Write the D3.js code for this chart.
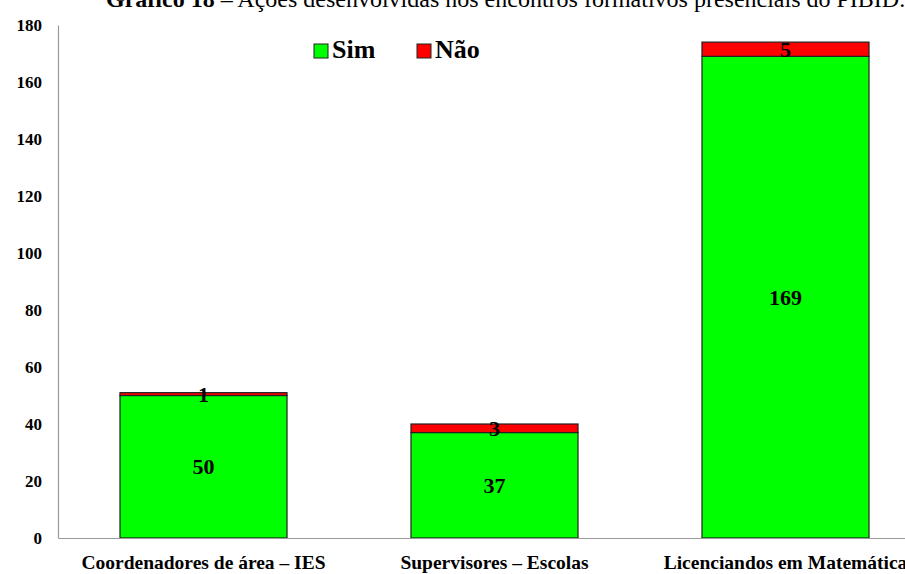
<!DOCTYPE html>
<html>
<head>
<meta charset="utf-8">
<script src="https://cdn.jsdelivr.net/npm/d3@7"></script>
<style>
  html, body { margin: 0; padding: 0; background: #fff; }
  svg { display: block; }
  text { font-family: "Liberation Serif", "Times New Roman", serif; }
</style>
</head>
<body>
<svg id="chart" width="905" height="574"></svg>
<script>
// Data
const categories = ["Coordenadores de área – IES", "Supervisores – Escolas", "Licenciandos em Matemática"];
const simValues = [50, 37, 169];
const naoValues = [1, 3, 5];
const seriesNames = ["Sim", "Não"];
const seriesColors = ["#00ff00", "#ff0000"];
const yTicks = [0, 20, 40, 60, 80, 100, 120, 140, 160, 180];

const svg = d3.select("#chart");
const margin = { left: 58, top: 25 };
const plotRight = 931; // plot area continues past the right edge

const x = d3.scaleBand()
  .domain(categories)
  .range([margin.left, plotRight])
  .paddingInner(0.426)
  .paddingOuter(0.213);

const y = d3.scaleLinear()
  .domain([0, 180])
  .range([538, margin.top]);

// Title
const title = svg.append("text")
  .attr("x", 106)
  .attr("y", 7)
  .attr("font-size", 24)
  .attr("fill", "#000");
title.append("tspan").attr("font-weight", "bold").text("Gráfico 18");
title.append("tspan").text(" – Ações desenvolvidas nos encontros formativos presenciais do PIBID.");

// Stacked data
const rows = categories.map((c, i) => ({ cat: c, Sim: simValues[i], "Não": naoValues[i] }));
const stack = d3.stack().keys(seriesNames)(rows);

// Bars
svg.append("g")
  .selectAll("g")
  .data(stack)
  .join("g")
  .attr("fill", (d, i) => seriesColors[i])
  .selectAll("rect")
  .data(d => d)
  .join("rect")
  .attr("x", d => x(d.data.cat))
  .attr("width", x.bandwidth())
  .attr("y", d => y(d[1]))
  .attr("height", d => y(d[0]) - y(d[1]))
  .attr("stroke", "#222")
  .attr("stroke-width", 1.2);

// Value labels centred in each segment
svg.append("g")
  .selectAll("g")
  .data(stack)
  .join("g")
  .selectAll("text")
  .data(d => d)
  .join("text")
  .attr("x", d => x(d.data.cat) + x.bandwidth() / 2)
  .attr("y", d => (y(d[0]) + y(d[1])) / 2)
  .attr("dy", "0.35em")
  .attr("text-anchor", "middle")
  .attr("font-size", 22)
  .attr("font-weight", "bold")
  .attr("fill", "#000")
  .text(d => d[1] - d[0]);

// Y axis
const yAxis = d3.axisLeft(y).tickValues(yTicks).tickSize(0).tickPadding(16);
const gy = svg.append("g").attr("transform", `translate(${margin.left},0)`).call(yAxis);
gy.select(".domain").attr("stroke", "#999").attr("stroke-width", 1.2);
gy.selectAll("text")
  .attr("font-family", "Liberation Serif, serif")
  .attr("font-size", 17)
  .attr("font-weight", "bold")
  .attr("fill", "#000");

// X axis
const xAxis = d3.axisBottom(x).tickSize(0).tickPadding(17);
const gx = svg.append("g").attr("transform", `translate(0,${y(0)})`).call(xAxis);
gx.select(".domain").attr("stroke", "#999").attr("stroke-width", 1.2);
gx.selectAll("text")
  .attr("font-family", "Liberation Serif, serif")
  .attr("font-size", 19.5)
  .attr("font-weight", "bold")
  .attr("fill", "#000");

// Legend
const legend = svg.append("g");
const legendX = [314, 417];
seriesNames.forEach((name, i) => {
  legend.append("rect")
    .attr("x", legendX[i]).attr("y", 44)
    .attr("width", 14).attr("height", 14)
    .attr("fill", seriesColors[i])
    .attr("stroke", "#222").attr("stroke-width", 1);
  legend.append("text")
    .attr("x", legendX[i] + 18).attr("y", 58)
    .attr("font-size", 26)
    .attr("font-weight", "bold")
    .attr("fill", "#000")
    .text(name);
});
</script>
</body>
</html>
